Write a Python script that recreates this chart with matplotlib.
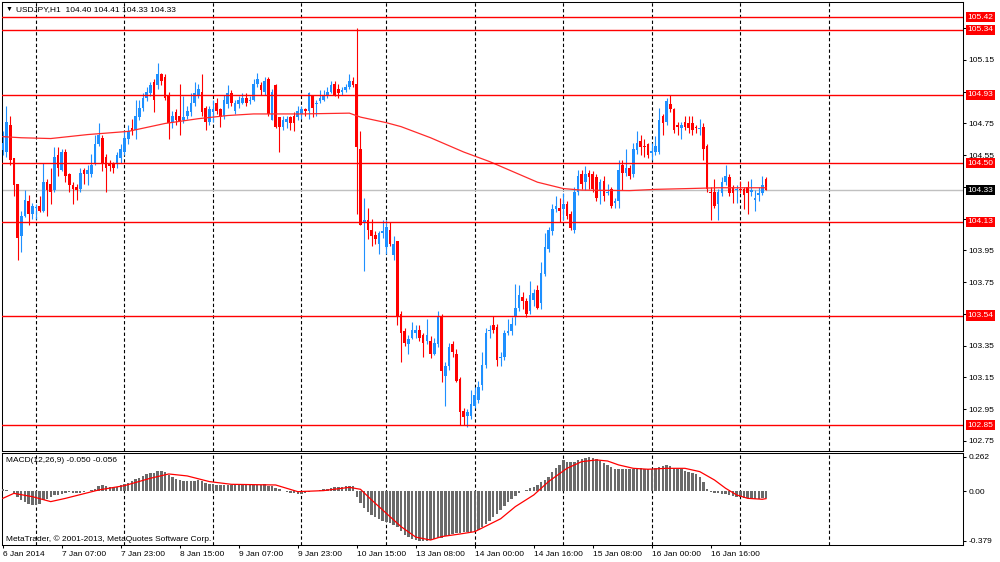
import matplotlib.pyplot as plt
import numpy as np

plt.rcParams['font.family'] = ['Liberation Sans', 'DejaVu Sans']

# USDJPY H1 bars, 6 Jan 2014 15:00 .. 17 Jan 2014 07:00
opens = [
    104.58, 104.57, 104.74, 104.53, 104.37, 104.04, 104.17, 104.26, 104.18, 104.22,
    104.23, 104.20, 104.38, 104.37, 104.33, 104.55, 104.46, 104.57, 104.43, 104.36,
    104.35, 104.34, 104.46, 104.43, 104.43, 104.50, 104.62, 104.66, 104.54, 104.50,
    104.50, 104.50, 104.53, 104.57, 104.65, 104.72, 104.71, 104.79, 104.85, 104.91,
    104.94, 105.01, 104.99, 105.06, 105.04, 104.93, 104.76, 104.82, 104.80, 104.77,
    104.80, 104.82, 104.88, 104.93, 104.95, 104.85, 104.76, 104.82, 104.88, 104.84,
    104.80, 104.87, 104.94, 104.83, 104.87, 104.88, 104.91, 104.89, 104.90, 105.00,
    104.99, 104.95, 105.03, 104.77, 104.99, 104.79, 104.73, 104.76, 104.79, 104.80,
    104.79, 104.81, 104.84, 104.83, 104.92, 104.87, 104.89, 104.90, 104.92, 104.95,
    105.00, 104.97, 104.95, 104.96, 104.98, 105.02, 105.00, 104.59, 104.12, 104.14,
    104.08, 104.05, 103.99, 104.06, 103.97, 104.08, 103.92, 104.01, 103.55, 103.44,
    103.36, 103.40, 103.43, 103.45, 103.42, 103.38, 103.38, 103.30, 103.36, 103.54,
    103.16, 103.22, 103.36, 103.30, 103.14, 102.94, 102.91, 102.91, 102.97, 103.01,
    103.10, 103.23, 103.44, 103.48, 103.47, 103.27, 103.28, 103.43, 103.44, 103.54,
    103.59, 103.66, 103.63, 103.57, 103.64, 103.70, 103.62, 103.80, 103.96, 104.07,
    104.21, 104.22, 104.21, 104.24, 104.18, 104.08, 104.32, 104.43, 104.38, 104.44,
    104.43, 104.41, 104.33, 104.39, 104.31, 104.34, 104.25, 104.26, 104.49, 104.44,
    104.47, 104.43, 104.58, 104.64, 104.61, 104.62, 104.565, 104.57, 104.57, 104.80,
    104.76, 104.87, 104.84, 104.74, 104.72, 104.76, 104.75, 104.75, 104.73, 104.715,
    104.73, 104.61, 104.32, 104.32, 104.24, 104.31, 104.38, 104.41, 104.35, 104.33,
    104.34, 104.34, 104.35, 104.32, 104.27, 104.30, 104.31, 104.40,
]
highs = [
    104.70, 104.86, 104.80, 104.53, 104.37, 104.20, 104.33, 104.30, 104.25, 104.24,
    104.29, 104.50, 104.40, 104.47, 104.60, 104.60, 104.59, 104.59, 104.44, 104.38,
    104.37, 104.47, 104.47, 104.49, 104.56, 104.68, 104.75, 104.68, 104.56, 104.52,
    104.51, 104.57, 104.62, 104.70, 104.74, 104.78, 104.90, 104.90, 104.94, 104.98,
    105.01, 105.03, 105.13, 105.07, 105.06, 104.95, 104.83, 104.84, 105.00, 104.92,
    104.86, 104.94, 105.01, 105.00, 105.06, 104.86, 104.86, 104.90, 104.91, 104.85,
    104.93, 104.99, 104.96, 104.90, 104.92, 104.94, 104.94, 104.92, 105.03, 105.07,
    105.01, 105.04, 105.04, 104.97, 105.00, 104.79, 104.80, 104.80, 104.80, 104.82,
    104.86, 104.86, 104.85, 104.95, 104.93, 104.90, 104.96, 104.96, 104.98, 105.02,
    105.02, 105.00, 104.98, 105.00, 105.06, 105.04, 105.35, 104.70, 104.28, 104.22,
    104.15, 104.07, 104.07, 104.14, 104.14, 104.13, 104.04, 104.01, 103.57, 103.46,
    103.42, 103.50, 103.48, 103.48, 103.43, 103.52, 103.41, 103.40, 103.57, 103.55,
    103.25, 103.37, 103.38, 103.33, 103.15, 102.96, 102.95, 103.07, 103.09, 103.13,
    103.31, 103.46, 103.48, 103.54, 103.49, 103.31, 103.45, 103.52, 103.53, 103.74,
    103.73, 103.69, 103.65, 103.76, 103.71, 103.73, 103.88, 104.06, 104.10, 104.24,
    104.29, 104.28, 104.31, 104.26, 104.20, 104.35, 104.46, 104.46, 104.48, 104.46,
    104.45, 104.43, 104.40, 104.42, 104.37, 104.35, 104.28, 104.52, 104.52, 104.59,
    104.49, 104.63, 104.70, 104.68, 104.65, 104.63, 104.63, 104.67, 104.85, 104.81,
    104.91, 104.93, 104.85, 104.76, 104.76, 104.80, 104.80, 104.80, 104.74, 104.78,
    104.75, 104.62, 104.35, 104.40, 104.34, 104.41, 104.49, 104.43, 104.36, 104.36,
    104.39, 104.35, 104.39, 104.40, 104.33, 104.35, 104.42, 104.41,
]
lows = [
    104.55, 104.54, 104.49, 104.29, 103.89, 103.94, 104.16, 104.11, 104.15, 104.15,
    104.19, 104.19, 104.17, 104.24, 104.32, 104.42, 104.45, 104.38, 104.32, 104.24,
    104.27, 104.32, 104.37, 104.36, 104.41, 104.49, 104.61, 104.45, 104.32, 104.45,
    104.44, 104.47, 104.50, 104.55, 104.62, 104.68, 104.65, 104.77, 104.83, 104.89,
    104.92, 104.82, 104.97, 104.99, 104.90, 104.65, 104.72, 104.74, 104.68, 104.75,
    104.78, 104.80, 104.86, 104.91, 104.80, 104.71, 104.74, 104.76, 104.81, 104.73,
    104.78, 104.85, 104.86, 104.81, 104.85, 104.87, 104.86, 104.87, 104.89, 104.98,
    104.93, 104.93, 104.80, 104.77, 104.72, 104.57, 104.71, 104.72, 104.71, 104.70,
    104.77, 104.78, 104.80, 104.78, 104.79, 104.80, 104.88, 104.89, 104.91, 104.94,
    104.92, 104.91, 104.93, 104.95, 104.97, 104.98, 104.18, 104.11, 103.82, 104.02,
    103.98, 103.99, 103.93, 104.03, 103.93, 103.98, 103.89, 103.48, 103.25, 103.35,
    103.30, 103.39, 103.40, 103.38, 103.28, 103.36, 103.27, 103.29, 103.34, 103.12,
    102.97, 103.20, 103.28, 103.12, 102.85, 102.85, 102.84, 102.89, 102.96, 102.99,
    103.07, 103.21, 103.40, 103.43, 103.22, 103.22, 103.26, 103.42, 103.42, 103.48,
    103.57, 103.58, 103.53, 103.55, 103.60, 103.58, 103.58, 103.79, 103.94, 104.05,
    104.19, 104.13, 104.14, 104.15, 104.08, 104.06, 104.30, 104.34, 104.33, 104.34,
    104.32, 104.26, 104.24, 104.26, 104.30, 104.22, 104.22, 104.22, 104.33, 104.42,
    104.40, 104.41, 104.56, 104.55, 104.54, 104.53, 104.52, 104.55, 104.56, 104.68,
    104.74, 104.82, 104.69, 104.68, 104.65, 104.71, 104.69, 104.68, 104.69, 104.68,
    104.52, 104.32, 104.14, 104.22, 104.14, 104.29, 104.36, 104.29, 104.25, 104.25,
    104.31, 104.21, 104.18, 104.29, 104.20, 104.26, 104.30, 104.33,
]
closes = [
    104.63, 104.76, 104.52, 104.36, 104.03, 104.17, 104.27, 104.18, 104.23, 104.225,
    104.20, 104.38, 104.33, 104.32, 104.54, 104.47, 104.57, 104.42, 104.36, 104.34,
    104.33, 104.44, 104.43, 104.46, 104.49, 104.62, 104.68, 104.50, 104.47, 104.48,
    104.47, 104.55, 104.59, 104.66, 104.70, 104.70, 104.80, 104.85, 104.91, 104.95,
    104.99, 104.90, 105.06, 105.02, 104.91, 104.75, 104.80, 104.77, 104.76, 104.79,
    104.83, 104.88, 104.94, 104.97, 104.82, 104.76, 104.84, 104.84, 104.83, 104.79,
    104.90, 104.94, 104.88, 104.88, 104.90, 104.91, 104.88, 104.90, 105.00, 105.03,
    104.96, 105.02, 104.81, 104.95, 104.73, 104.73, 104.77, 104.78, 104.75, 104.75,
    104.83, 104.84, 104.83, 104.94, 104.85, 104.88, 104.91, 104.93, 104.95, 104.99,
    104.93, 104.94, 104.96, 104.98, 105.02, 104.99, 104.60, 104.11, 104.14, 104.08,
    104.04, 104.02, 104.06, 104.07, 104.10, 103.99, 103.99, 103.54, 103.43, 103.37,
    103.39, 103.45, 103.45, 103.40, 103.37, 103.42, 103.30, 103.37, 103.53, 103.19,
    103.22, 103.34, 103.31, 103.13, 102.93, 102.90, 102.93, 102.98, 103.04, 103.09,
    103.23, 103.43, 103.45, 103.45, 103.26, 103.28, 103.43, 103.44, 103.49, 103.59,
    103.67, 103.63, 103.55, 103.67, 103.68, 103.59, 103.81, 103.97, 104.08, 104.21,
    104.23, 104.20, 104.24, 104.17, 104.09, 104.32, 104.42, 104.37, 104.43, 104.41,
    104.34, 104.28, 104.38, 104.29, 104.32, 104.23, 104.26, 104.46, 104.44, 104.47,
    104.42, 104.59, 104.63, 104.60, 104.60, 104.55, 104.575, 104.61, 104.77, 104.75,
    104.89, 104.84, 104.71, 104.73, 104.74, 104.73, 104.72, 104.71, 104.72, 104.72,
    104.59, 104.34, 104.31, 104.23, 104.32, 104.38, 104.42, 104.31, 104.31, 104.34,
    104.33, 104.30, 104.31, 104.33, 104.28, 104.31, 104.36, 104.33,
]

# moving average line, read at some bars
ma_bars = [0, 5, 13, 23, 34, 44, 53, 61, 68, 81, 94, 97, 104, 108, 116, 125,
           132, 139, 145, 152, 157, 170, 177, 186, 194, 207]
ma_values = [104.667, 104.66, 104.655, 104.68, 104.70, 104.75, 104.78, 104.80,
             104.81, 104.81, 104.815, 104.79, 104.755, 104.73, 104.66, 104.57,
             104.51, 104.44, 104.38, 104.34, 104.33, 104.327, 104.335, 104.34,
             104.345, 104.345]

# MACD(12,26,9) main histogram
macd_main = [
    0.015, 0.012, 0.004, -0.018, -0.043, -0.069, -0.081, -0.094, -0.102, -0.107,
    -0.095, -0.069, -0.056, -0.043, -0.031, -0.025, -0.018, -0.010, -0.008, -0.010,
    -0.013, -0.010, -0.005, 0.000, 0.008, 0.020, 0.038, 0.046, 0.041, 0.036,
    0.031, 0.036, 0.046, 0.056, 0.066, 0.076, 0.092, 0.104, 0.117, 0.130,
    0.140, 0.142, 0.153, 0.155, 0.148, 0.127, 0.109, 0.097, 0.084, 0.076,
    0.076, 0.076, 0.081, 0.084, 0.076, 0.066, 0.059, 0.053, 0.051, 0.048,
    0.048, 0.051, 0.051, 0.048, 0.046, 0.046, 0.046, 0.046, 0.048, 0.051,
    0.051, 0.053, 0.041, 0.038, 0.025, 0.015, 0.000, -0.005, -0.010, -0.015,
    -0.018, -0.018, -0.015, -0.005, 0.000, 0.005, 0.010, 0.015, 0.020, 0.025,
    0.030, 0.033, 0.036, 0.038, 0.041, 0.043, -0.040, -0.090, -0.130, -0.155,
    -0.180, -0.196, -0.210, -0.225, -0.235, -0.245, -0.255, -0.275, -0.305, -0.335,
    -0.350, -0.365, -0.372, -0.377, -0.379, -0.378, -0.375, -0.368, -0.360, -0.355,
    -0.345, -0.335, -0.325, -0.318, -0.315, -0.312, -0.310, -0.310, -0.310, -0.295,
    -0.275, -0.250, -0.225, -0.200, -0.175, -0.145, -0.115, -0.085, -0.060, -0.035,
    -0.015, 0.000, 0.012, 0.022, 0.035, 0.048, 0.068, 0.086, 0.112, 0.150,
    0.175, 0.201, 0.239, 0.226, 0.221, 0.226, 0.239, 0.246, 0.254, 0.262,
    0.254, 0.244, 0.234, 0.219, 0.201, 0.183, 0.170, 0.170, 0.168, 0.168,
    0.170, 0.172, 0.175, 0.175, 0.172, 0.172, 0.173, 0.175, 0.183, 0.193,
    0.198, 0.193, 0.175, 0.168, 0.168, 0.158, 0.150, 0.142, 0.132, 0.112,
    0.074, 0.015, -0.005, -0.012, -0.016, -0.018, -0.020, -0.028, -0.035, -0.040,
    -0.045, -0.050, -0.055, -0.058, -0.058, -0.058, -0.055, -0.050,
]
signal_bars = [0, 3, 8, 13, 17, 26, 33, 40, 45, 50, 56, 62, 74, 80, 87, 94, 97,
               100, 104, 108, 112, 116, 119, 124, 128, 135, 139, 144, 148, 153,
               157, 161, 164, 167, 171, 175, 180, 185, 189, 193, 196, 199, 202,
               206, 207]
signal_values = [-0.054, -0.016, -0.041, -0.079, -0.054, 0.010, 0.043, 0.099,
                 0.132, 0.117, 0.074, 0.053, 0.048, -0.003, 0.005, 0.030, 0.015,
                 -0.066, -0.168, -0.270, -0.350, -0.372, -0.346, -0.326, -0.308,
                 -0.210, -0.117, -0.028, 0.074, 0.175, 0.226, 0.239, 0.231, 0.201,
                 0.175, 0.168, 0.175, 0.175, 0.150, 0.086, 0.023, -0.028, -0.054,
                 -0.061, -0.056]

levels = [105.42, 105.34, 104.93, 104.50, 104.13, 103.54, 102.85]
last_price = 104.33
price_ticks = [105.35, 105.15, 104.95, 104.75, 104.55, 104.35, 104.15, 103.95,
               103.75, 103.55, 103.35, 103.15, 102.95, 102.75]
macd_ticks = [0.262, 0.0, -0.379]
macd_tick_labels = ['0.262', '0.00', '-0.379']

time_labels = ['6 Jan 2014', '7 Jan 07:00', '7 Jan 23:00', '8 Jan 15:00',
               '9 Jan 07:00', '9 Jan 23:00', '10 Jan 15:00', '13 Jan 08:00',
               '14 Jan 00:00', '14 Jan 16:00', '15 Jan 08:00', '16 Jan 00:00',
               '16 Jan 16:00']
label_bars = [0, 16, 32, 48, 64, 80, 96, 112, 128, 144, 160, 176, 192]
day_starts = [9, 33, 57, 81, 104, 128, 152, 176, 200, 224]

W, H = 1000, 562


def px_box(left, top, right, bottom):
    return [left / W, 1 - bottom / H, (right - left) / W, (bottom - top) / H]


fig = plt.figure(figsize=(10, 5.62), dpi=100, facecolor='white')
ax = fig.add_axes(px_box(2, 2, 963, 451))
ax2 = fig.add_axes(px_box(2, 453, 963, 545))

x = np.arange(len(closes))
o = np.array(opens)
h = np.array(highs)
l = np.array(lows)
c = np.array(closes)
cols = np.where(c >= o, '#1e90ff', '#ff0000')

# candles
ax.vlines(x, l, h, colors=cols, lw=0.8, zorder=3)
ax.bar(x, np.maximum(np.abs(c - o), 0.006), bottom=np.minimum(o, c), width=0.72,
       color=cols, lw=0, zorder=3.1)
ax.plot(ma_bars, ma_values, color='#ff2a2a', lw=0.9, zorder=4)

for p in levels:
    ax.axhline(p, color='#ff0000', lw=1.0, zorder=4)
ax.axhline(last_price, color='#c0c0c0', lw=1.0, zorder=2)

for a in (ax, ax2):
    for d in day_starts:
        a.axvline(d, color='black', lw=0.8, ls=(0, (3.0, 2.2)), zorder=1)
    a.set_xlim(-0.22, 260.4)
    a.set_facecolor('white')
    for s in a.spines.values():
        s.set_color('black')
        s.set_linewidth(0.75)
    a.yaxis.tick_right()
    a.tick_params(axis='y', length=2.2, width=0.75, pad=1.5, labelsize=6)

# tick labels that sit under a price box are hidden by it in the terminal
marks = levels + [last_price]
ax.set_ylim(102.687, 105.515)
ax.set_yticks(price_ticks)
ax.set_yticklabels(['' if min(abs(t - m) for m in marks) < 0.035 else f'{t:.2f}'
                    for t in price_ticks])
ax.set_xticks([])

# price labels on the right axis
for p in marks:
    fc = 'black' if p == last_price else '#ff0000'
    ax.annotate(f'{p:.2f}', xy=(1, p), xycoords=('axes fraction', 'data'),
                xytext=(3.4, 0), textcoords='offset points', ha='left', va='center',
                fontsize=6, color='white', annotation_clip=False, zorder=6,
                bbox=dict(boxstyle='square,pad=0.2', fc=fc, ec='none'))

# MACD window
ax2.bar(x, macd_main, width=0.66, color='#6a6a6a', lw=0, zorder=3)
ax2.plot(signal_bars, signal_values, color='#ff0000', lw=0.9, zorder=4)
ax2.set_ylim(-0.41, 0.292)
ax2.set_yticks(macd_ticks)
ax2.set_yticklabels(macd_tick_labels)
ax2.set_xticks(label_bars)
ax2.set_xticklabels(time_labels, ha='left')
ax2.tick_params(axis='x', length=2.2, width=0.75, pad=2, labelsize=6)

fig.text(6 / W, 1 - 9.5 / H, '\u25bc', fontsize=5, va='center', ha='left')
fig.text(16 / W, 1 - 9.5 / H, 'USDJPY,H1  104.40 104.41 104.33 104.33',
         fontsize=6, va='center', ha='left')
fig.text(6 / W, 1 - 461 / H, 'MACD(12,26,9) -0.050 -0.056', fontsize=6,
         va='center', ha='left')
fig.text(6 / W, 1 - 539 / H, 'MetaTrader, \u00a9 2001-2013, MetaQuotes Software Corp.',
         fontsize=6, va='center', ha='left')

fig.savefig('out.png', dpi=100, facecolor='white')
